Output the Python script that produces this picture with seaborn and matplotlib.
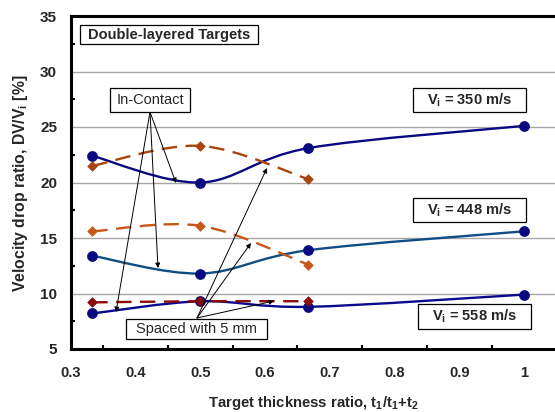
import numpy as np
import pandas as pd
import matplotlib
matplotlib.use("Agg")
import matplotlib.pyplot as plt
import seaborn as sns
from matplotlib.path import Path
from matplotlib.patches import PathPatch, Rectangle

# ---------------- data ----------------
ratio_contact = [0.333, 0.5, 0.667, 1.0]
ratio_spaced = [0.333, 0.5, 0.667]

contact_350 = [22.4, 20.0, 23.1, 25.1]
contact_448 = [13.4, 11.8, 13.9, 15.6]
contact_558 = [8.2, 9.3, 8.8, 9.9]

spaced_350 = [21.5, 23.3, 20.3]
spaced_448 = [15.6, 16.1, 12.6]
spaced_558 = [9.2, 9.3, 9.3]

x_ticks = [0.3, 0.4, 0.5, 0.6, 0.7, 0.8, 0.9, 1.0]
x_ticklabels = ["0.3", "0.4", "0.5", "0.6", "0.7", "0.8", "0.9", "1"]
y_ticks = [5, 10, 15, 20, 25, 30, 35]

# ---------------- style ----------------
sns.set_theme(style="white")
plt.rcParams["font.family"] = ["Liberation Sans", "DejaVu Sans"]
plt.rcParams["mathtext.fontset"] = "custom"
plt.rcParams["mathtext.rm"] = "Liberation Sans:bold"
plt.rcParams["mathtext.it"] = "Liberation Sans:bold"
plt.rcParams["mathtext.bf"] = "Liberation Sans:bold"

fig = plt.figure(figsize=(5.55, 4.12), dpi=100)
ax = fig.add_axes([71 / 555, 1 - 349 / 412, 1 - 71 / 555, (349 - 16) / 412])

XMIN, XMAX, YMIN, YMAX = 0.3, 0.3 + 484 / 647, 5, 35
ax.set_xlim(XMIN, XMAX)
ax.set_ylim(YMIN, YMAX)


def smooth_path(xs, ys):
    """Excel-like smoothed line: cubic Bezier through the data points."""
    P = np.column_stack([xs, ys]).astype(float)
    n = len(P)
    verts = [tuple(P[0])]
    codes = [Path.MOVETO]
    for i in range(n - 1):
        p0 = P[i - 1] if i > 0 else P[i]
        p1 = P[i]
        p2 = P[i + 1]
        p3 = P[i + 2] if i + 2 < n else P[i + 1]
        c1 = p1 + (p2 - p0) / 6.0
        c2 = p2 - (p3 - p1) / 6.0
        verts += [tuple(c1), tuple(c2), tuple(p2)]
        codes += [Path.CURVE4] * 3
    return Path(verts, codes)


series = [
    (ratio_contact, contact_350, "#0A0A80", "-", "o", "#0A0A80"),
    (ratio_contact, contact_448, "#0E4E84", "-", "o", "#0A0A80"),
    (ratio_contact, contact_558, "#0A0A8C", "-", "o", "#0A0A80"),
    (ratio_spaced, spaced_350, "#A8440E", "--", "D", "#A8440E"),
    (ratio_spaced, spaced_448, "#C8581A", "--", "D", "#C8581A"),
    (ratio_spaced, spaced_558, "#8C0A0A", "--", "D", "#8C0A0A"),
]

# grid
for yv in [10, 15, 20, 25, 30]:
    ax.axhline(yv, color="#A6A6A6", lw=1.0, zorder=0)

for xs, ys, lc, ls, mk, mc in series:
    patch = PathPatch(smooth_path(xs, ys), facecolor="none", edgecolor=lc,
                      lw=1.7, zorder=2,
                      linestyle=(0, (6.5, 3.6)) if ls == "--" else "-",
                      capstyle="butt")
    ax.add_patch(patch)
    df = pd.DataFrame({"x": xs, "y": ys})
    sns.scatterplot(data=df, x="x", y="y", ax=ax, marker=mk, color=mc,
                    s=52 if mk == "o" else 24, edgecolor=mc, linewidth=0.5,
                    zorder=3, legend=False)


# ---------------- annotations (layout in pixel positions) ----------------
def px(xp, yp):
    return (0.3 + (xp - 71) / 647.0, 35 - (yp - 16) / 11.1)


def box(x0, y0, x1, y1, text, bold, fs=10.5):
    a = px(x0, y1)
    b = px(x1, y0)
    ax.add_patch(Rectangle(a, b[0] - a[0], b[1] - a[1], facecolor="white",
                           edgecolor="black", lw=0.9, zorder=5))
    c = px((x0 + x1) / 2, (y0 + y1) / 2)
    ax.text(c[0], c[1], text, ha="center", va="center", fontsize=fs,
            fontweight="bold" if bold else "normal", zorder=6)


arrow_kw = dict(arrowstyle="-|>", lw=0.7, color="black", mutation_scale=7,
                shrinkA=0, shrinkB=0)

# In-Contact arrows
for tgt in [(176, 183), (158, 268), (116, 312)]:
    ax.annotate("", xy=px(*tgt), xytext=px(150, 112), arrowprops=arrow_kw,
                zorder=4)
# Spaced arrows
for tgt in [(267, 168), (251, 243), (274, 301)]:
    ax.annotate("", xy=px(*tgt), xytext=px(197, 318), arrowprops=arrow_kw,
                zorder=4)

box(80, 25, 258, 44, "Double-layered Targets", True)
box(110, 88, 190, 112, "In-Contact", False)
box(413, 88, 526, 112, r"V$_{\mathrm{i}}$ = 350 m/s", True)
box(413, 198, 526, 222, r"V$_{\mathrm{i}}$ = 448 m/s", True)
box(418, 304, 531, 329, r"V$_{\mathrm{i}}$ = 558 m/s", True)
box(126, 319, 267, 339, "Spaced with 5 mm", False)

# ---------------- axes ----------------
ax.set_xticks(x_ticks)
ax.set_xticklabels(x_ticklabels, fontweight="bold", fontsize=10.5)
ax.set_xticks(np.arange(0.35, 1.05, 0.1), minor=True)
ax.set_yticks(y_ticks)
ax.set_yticklabels([str(v) for v in y_ticks], fontweight="bold", fontsize=11)
ax.set_yticks(np.arange(7.5, 35, 5), minor=True)
ax.tick_params(axis="both", which="major", direction="in", length=4,
               width=1.5, color="black")
ax.tick_params(axis="both", which="minor", direction="in", length=3,
               width=1.5, color="black", left=True, bottom=True)
ax.tick_params(axis="x", which="major", pad=12)
ax.tick_params(axis="y", which="major", pad=10)

for side in ["left", "bottom", "top"]:
    ax.spines[side].set_linewidth(2.2)
    ax.spines[side].set_color("black")
ax.spines["right"].set_visible(False)

ax.set_xlabel(r"Target thickness ratio, t$_{\mathrm{1}}$/t$_{\mathrm{1}}$+t$_{\mathrm{2}}$",
              fontweight="bold", fontsize=10.7, labelpad=10)
ax.set_ylabel(r"Velocity drop ratio, DV/V$_{\mathrm{i}}$ [%]",
              fontweight="bold", fontsize=11.3)
ax.yaxis.set_label_coords((30 - 71) / 484, (349 - 183) / 333)

fig.savefig("out.png", dpi=100)
